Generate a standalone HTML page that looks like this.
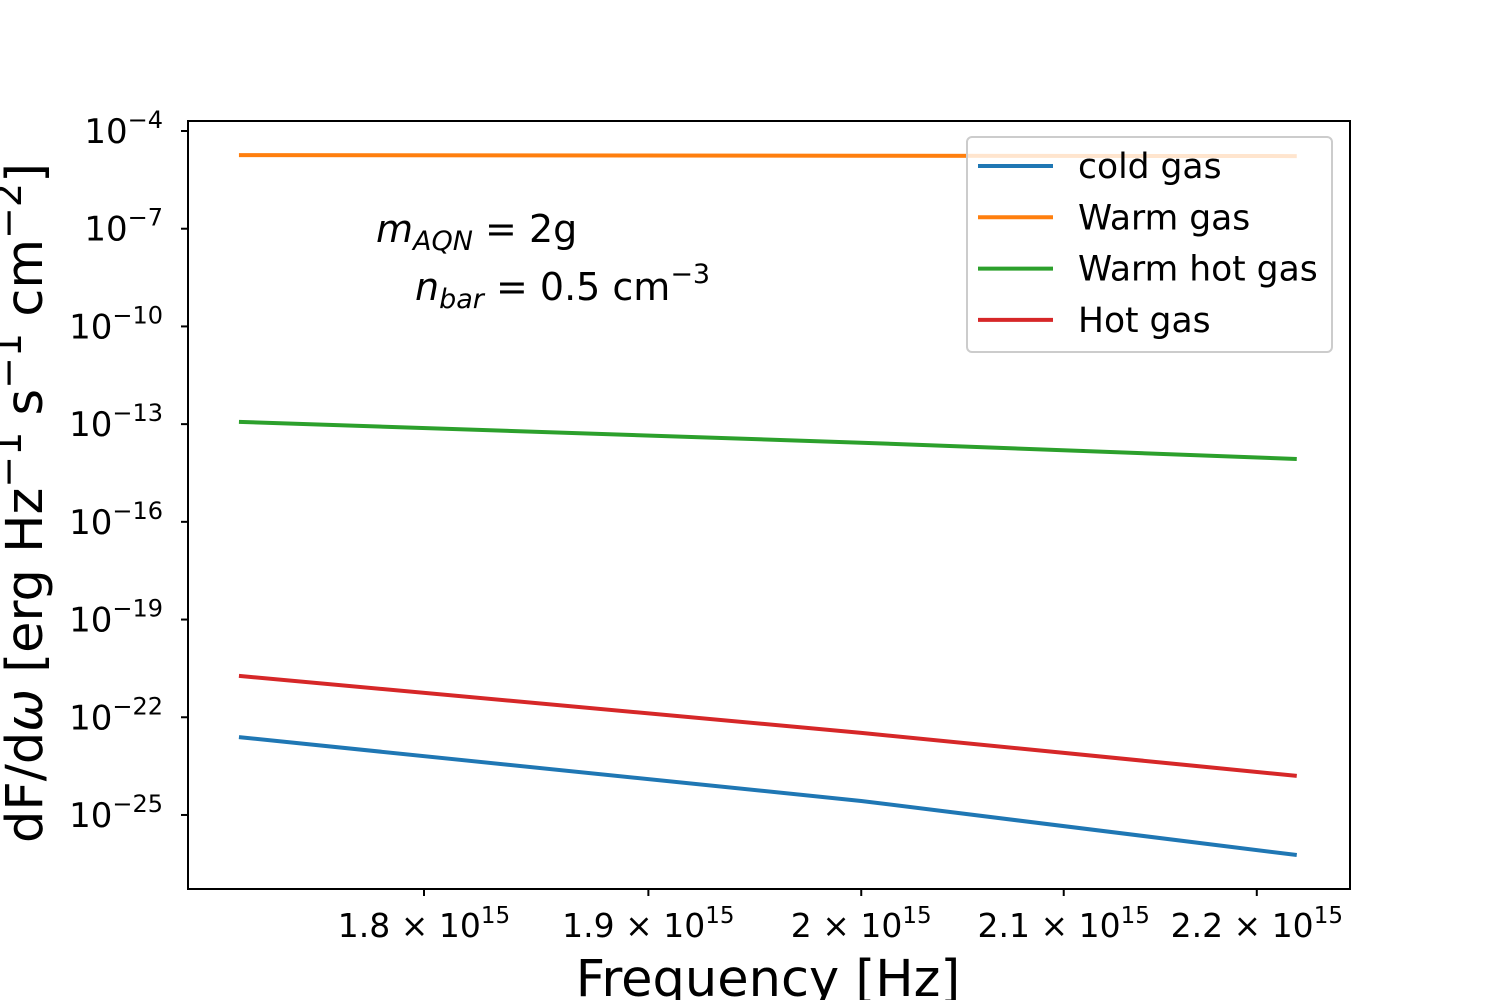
<!DOCTYPE html>
<html><head><meta charset="utf-8"><style>
html,body{margin:0;padding:0;background:#fff}
svg{display:block;font-family:"DejaVu Sans","Liberation Sans",sans-serif}
</style></head><body>
<svg id="chart" width="1500" height="1000" viewBox="0 0 1500 1000">
<rect width="1500" height="1000" fill="#fff"/>
<g id="series"></g>
<rect x="188" y="121" width="1162" height="768" fill="none" stroke="#000" stroke-width="2"/>
<g id="xticks"></g>
<g id="yticks"></g>
<text x="768" y="996" font-size="51" text-anchor="middle">Frequency [Hz]</text>
<text transform="translate(42,503) rotate(-90)" font-size="51" text-anchor="middle">dF/d<tspan font-style="italic">ω</tspan> [erg Hz<tspan font-size="38" dy="-21">−1</tspan><tspan dy="21"> s</tspan><tspan font-size="38" dy="-21">−1</tspan><tspan dy="21"> cm</tspan><tspan font-size="38" dy="-21">−2</tspan><tspan dy="21">]</tspan></text>
<text x="376" y="242" font-size="38"><tspan font-style="italic">m</tspan><tspan font-style="italic" font-size="27" dy="8">AQN</tspan><tspan dy="-8"> = 2g</tspan></text>
<text x="415" y="300" font-size="38"><tspan font-style="italic">n</tspan><tspan font-style="italic" font-size="27" dy="8">bar</tspan><tspan dy="-8"> = 0.5 cm</tspan><tspan font-size="27" dy="-17">−3</tspan></text>
<g>
<rect x="967" y="137" width="365" height="215" rx="5" fill="#fff" fill-opacity="0.8" stroke="#ccc" stroke-width="2"/>
<g id="legend"></g>
</g>
</svg>
<script>
const xs = [1.7215e15, 2.0e15, 2.2213e15];
const seriesNames = ["cold gas","Warm gas","Warm hot gas","Hot gas"];
const seriesColors = ["#1f77b4","#ff7f0e","#2ca02c","#d62728"];
const coldGas = [-22.61, -24.57, -26.23];
const warmGas = [-4.74, -4.76, -4.77];
const warmHotGas = [-12.93, -13.57, -14.07];
const hotGas = [-20.73, -22.48, -23.80];
const xTickVals = [1.8e15,1.9e15,2.0e15,2.1e15,2.2e15];
const xTickMant = ["1.8 × ","1.9 × ","2 × ","2.1 × ","2.2 × "];
const yTickExps = [-4,-7,-10,-13,-16,-19,-22,-25];

const NS="http://www.w3.org/2000/svg";
function X(v){return 424+4150*Math.log(v/1.8e15);}
function Y(e){return 131+(-4-e)*32.57;}
function mk(t,a){const e=document.createElementNS(NS,t);for(const k in a)e.setAttribute(k,a[k]);return e;}
const sg=document.getElementById('series');
[coldGas,warmGas,warmHotGas,hotGas].forEach((s,i)=>{
  const p=mk('polyline',{points:s.map((v,j)=>X(xs[j])+','+Y(v)).join(' '),fill:'none',stroke:seriesColors[i],'stroke-width':4});
  
  
  sg.appendChild(p);
});
const xg=document.getElementById('xticks');
xTickVals.forEach((v,i)=>{
  const x=X(v);
  const l=mk('line',{x1:x,x2:x,y1:889,y2:896,stroke:'#000','stroke-width':2});
  
  
  xg.appendChild(l);
  const t=mk('text',{x:x,y:937,'font-size':33,'text-anchor':'middle'});
  t.innerHTML=xTickMant[i]+'10<tspan font-size="23" dy="-14">15</tspan>';
  
  
  xg.appendChild(t);
});
const yg=document.getElementById('yticks');
yTickExps.forEach(e=>{
  const y=Y(e);
  const l=mk('line',{x1:181,x2:188,y1:y,y2:y,stroke:'#000','stroke-width':2});
  
  
  yg.appendChild(l);
  const t=mk('text',{x:163,y:y+12,'font-size':34,'text-anchor':'end'});
  t.innerHTML='10<tspan font-size="24" dy="-15">−'+Math.abs(e)+'</tspan>';
  
  
  yg.appendChild(t);
});
const lg=document.getElementById('legend');
seriesNames.forEach((n,i)=>{
  const y=166+i*51.3;
  const l=mk('line',{x1:978,x2:1053,y1:y,y2:y,stroke:seriesColors[i],'stroke-width':4});
  
  
  lg.appendChild(l);
  const t=mk('text',{x:1078,y:y+12,'font-size':34.5});
  t.textContent=n;
  
  
  lg.appendChild(t);
});
</script>
</body></html>
